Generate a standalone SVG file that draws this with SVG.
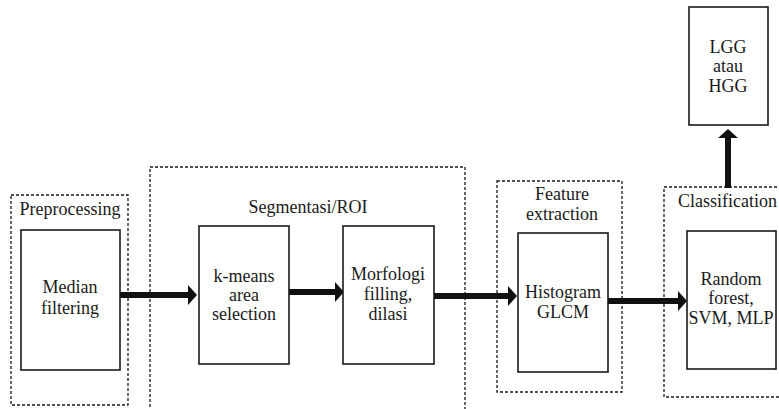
<svg xmlns="http://www.w3.org/2000/svg" width="779" height="409" viewBox="0 0 779 409">
  <style>
    .stage { fill: none; stroke: #1a1a1a; stroke-width: 1.3; stroke-dasharray: 3 2; }
    .box { fill: #fff; stroke: #1a1a1a; stroke-width: 1.6; }
    text { font-family: 'Liberation Serif', 'Times New Roman', serif; font-size: 18px; fill: #1a1a1a; text-anchor: middle; }
    .flow { stroke: #111; stroke-width: 6; fill: none; }
  </style>
  <defs>
    <marker id="head" markerUnits="userSpaceOnUse" viewBox="0 0 9 20" markerWidth="9" markerHeight="20" refX="0" refY="10" orient="auto">
      <path d="M0,0 L9,10 L0,20 Z" fill="#111"/>
    </marker>
  </defs>
  <rect width="779" height="409" fill="#fff"/>

  <!-- stage frames -->
  <g id="stage-preprocessing">
    <rect class="stage" x="11" y="195" width="117" height="210"/>
    <text x="70" y="215">Preprocessing</text>
  </g>
  <g id="stage-segmentasi">
    <rect class="stage" x="150" y="167" width="315" height="250"/>
    <text x="308" y="213">Segmentasi/ROI</text>
  </g>
  <g id="stage-feature">
    <rect class="stage" x="497" y="181" width="125" height="211"/>
    <text x="562" y="200">Feature</text>
    <text x="562" y="220">extraction</text>
  </g>
  <g id="stage-classification">
    <rect class="stage" x="664" y="187" width="130" height="210"/>
    <text x="678" y="207" style="text-anchor:start">Classification</text>
  </g>

  <!-- connectors -->
  <g id="connectors">
    <line class="flow" x1="120" y1="295" x2="188" y2="295" marker-end="url(#head)"/>
    <line class="flow" x1="289" y1="292" x2="335" y2="292" marker-end="url(#head)"/>
    <line class="flow" x1="434" y1="296" x2="508" y2="296" marker-end="url(#head)"/>
    <line class="flow" x1="608" y1="301" x2="678" y2="301" marker-end="url(#head)"/>
    <line class="flow" x1="728" y1="188" x2="728" y2="138" marker-end="url(#head)"/>
  </g>

  <!-- process nodes -->
  <g id="node-median">
    <rect class="box" x="21" y="230" width="99" height="140"/>
    <text x="70" y="293">Median</text>
    <text x="70" y="314">filtering</text>
  </g>
  <g id="node-kmeans">
    <rect class="box" x="199" y="226" width="90" height="138"/>
    <text x="244" y="282">k-means</text>
    <text x="244" y="301">area</text>
    <text x="244" y="320">selection</text>
  </g>
  <g id="node-morfologi">
    <rect class="box" x="343" y="226" width="91" height="138"/>
    <text x="388" y="280">Morfologi</text>
    <text x="388" y="300">filling,</text>
    <text x="388" y="320">dilasi</text>
  </g>
  <g id="node-histogram">
    <rect class="box" x="518" y="233" width="90" height="139"/>
    <text x="563" y="298">Histogram</text>
    <text x="563" y="318">GLCM</text>
  </g>
  <g id="node-classifier">
    <rect class="box" x="687" y="231" width="89" height="138"/>
    <text x="731" y="285">Random</text>
    <text x="731" y="304">forest,</text>
    <text x="731" y="324">SVM, MLP</text>
  </g>
  <g id="node-output">
    <rect class="box" x="689" y="7" width="79" height="118"/>
    <text x="728" y="53">LGG</text>
    <text x="728" y="72">atau</text>
    <text x="728" y="92">HGG</text>
  </g>
</svg>
